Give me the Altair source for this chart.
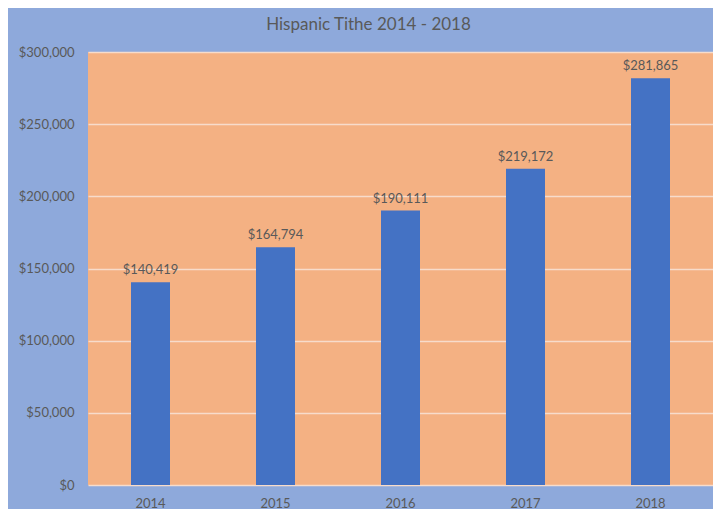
import altair as alt
import pandas as pd

years = ["2014", "2015", "2016", "2017", "2018"]
tithe = [140419, 164794, 190111, 219172, 281865]
labels = ["$140,419", "$164,794", "$190,111", "$219,172", "$281,865"]

df = pd.DataFrame({"year": years, "tithe": tithe, "label": labels})

FONT = "Lato"
TXT = "#595959"

base = alt.Chart(df)

x_enc = alt.X("year:N", title=None, sort=years,
              scale=alt.Scale(paddingInner=0.688, paddingOuter=0.344),
              axis=alt.Axis(labelAngle=0, ticks=False, domain=False, labelPadding=12,
                            labelFontSize=13, labelColor=TXT, labelFont=FONT, grid=False))
y_enc = alt.Y("tithe:Q", title=None,
              scale=alt.Scale(domain=[0, 300000], nice=False),
              axis=alt.Axis(values=[0, 50000, 100000, 150000, 200000, 250000, 300000],
                            format="$,.0f", ticks=False, domain=False, labelPadding=14,
                            labelFontSize=13, labelColor=TXT, labelFont=FONT,
                            grid=True, gridColor="#F7DCCB", gridWidth=1.5))

bars = base.mark_bar(color="#4472C4").encode(x=x_enc, y=y_enc)

text = base.mark_text(baseline="bottom", dy=-5, fontSize=13, font=FONT, color=TXT).encode(
    x=alt.X("year:N", sort=years), y="tithe:Q", text="label:N")

chart = (bars + text).properties(
    width=625, height=433,
    padding={"left": 80, "top": 44, "right": 0, "bottom": 24},
    autosize="none",
    background="#8EA9DB",
    title=alt.TitleParams("Hispanic Tithe 2014 - 2018", font=FONT, fontSize=17,
                          fontWeight="normal", color=TXT, anchor="middle",
                          offset=12, dx=-32),
).configure_view(fill="#F4B183", stroke=None)

chart.save("out.html", embed_options={"renderer": "svg", "actions": False})
